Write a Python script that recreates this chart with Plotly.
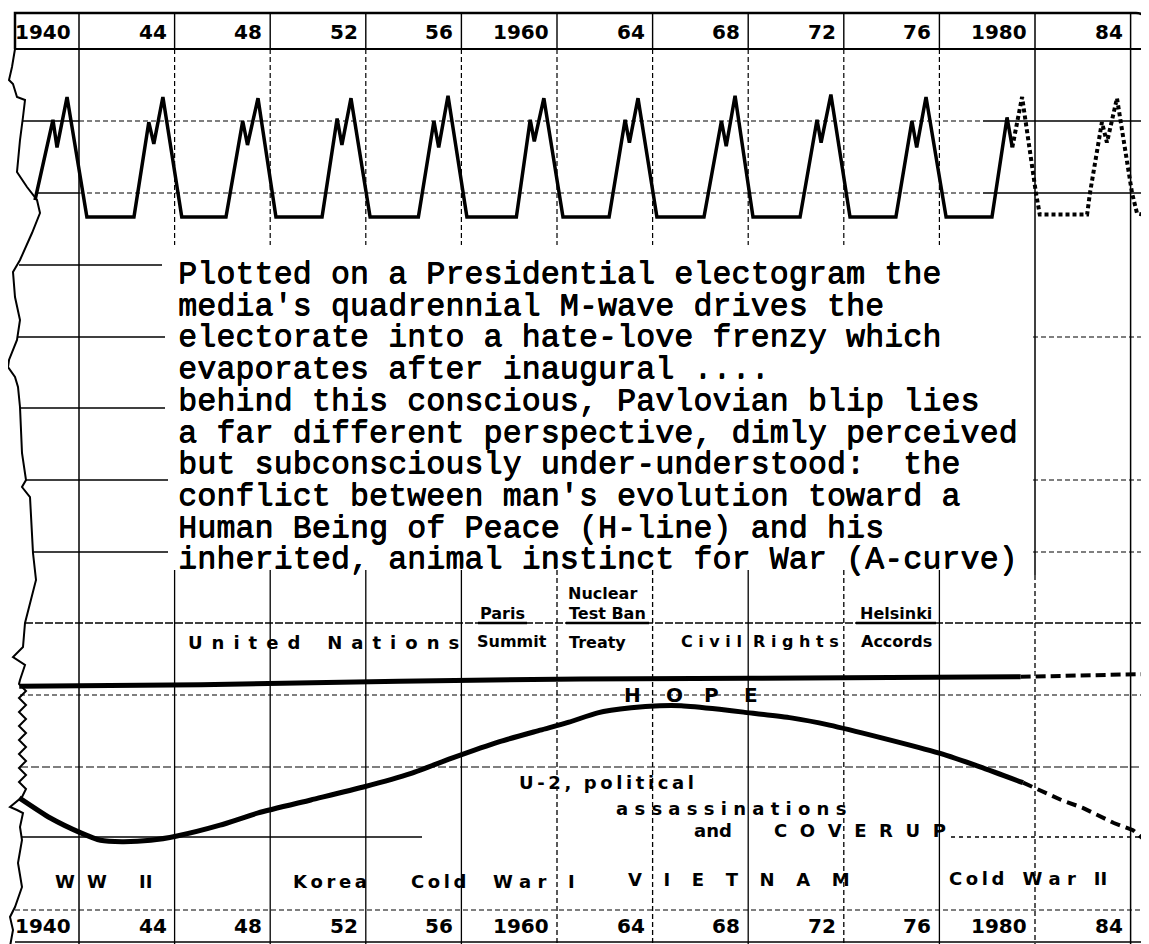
import plotly.graph_objects as go

W, H = 1149, 944

# ---------------- data ----------------
grid_years = [1941, 1945, 1949, 1953, 1957, 1961, 1965, 1969, 1973, 1977, 1981, 1985]
year_labels = ["1940", "44", "48", "52", "56", "1960", "64", "68", "72", "76", "1980", "84"]

# Quadrennial "M-wave" (media intensity, arbitrary units)
m_years = [1939.16, 1939.91, 1940.08, 1940.50, 1941.33,
           1943.30, 1943.92, 1944.13, 1944.51, 1945.30,
           1947.15, 1947.85, 1948.05, 1948.49, 1949.24,
           1951.17, 1951.80, 1952.00, 1952.38, 1953.18,
           1955.20, 1955.85, 1956.05, 1956.44, 1957.23,
           1959.30, 1959.88, 1960.05, 1960.45, 1961.25,
           1963.18, 1963.85, 1964.03, 1964.39, 1965.18,
           1967.15, 1967.88, 1968.08, 1968.45, 1969.20,
           1971.17, 1971.88, 1972.05, 1972.46, 1973.26,
           1975.18, 1975.85, 1976.05, 1976.44, 1977.28,
           1979.20, 1979.83, 1980.05]
m_values = [1.4, 8.1, 5.8, 10.0, 0.0,
            0.0, 7.9, 6.1, 10.0, 0.0,
            0.0, 8.0, 6.0, 9.9, 0.0,
            0.0, 8.2, 6.0, 9.9, 0.0,
            0.0, 8.0, 5.8, 10.1, 0.0,
            0.0, 8.1, 6.3, 9.9, 0.0,
            0.0, 8.1, 6.2, 9.9, 0.0,
            0.0, 8.0, 5.9, 10.1, 0.0,
            0.0, 8.1, 6.2, 10.2, 0.0,
            0.0, 8.0, 5.8, 10.0, 0.0,
            0.0, 8.3, 5.8]
m_years_proj = [1980.05, 1980.46, 1981.04, 1981.20, 1983.18, 1983.30, 1983.80,
                1984.01, 1984.43, 1985.06, 1985.27, 1985.75]
m_values_proj = [5.8, 10.0, 2.0, 0.2, 0.2, 2.0, 7.9, 6.2, 9.9, 2.0, 0.3, 0.1]

# H-line (Human Being of Peace)
h_years = [1938.5, 1946.1, 1954.4, 1962.0, 1969.1, 1980.4]
h_values = [31.5, 31.7, 32.2, 32.5, 32.6, 32.8]
h_years_proj = [1980.4, 1985.8]
h_values_proj = [32.8, 33.2]

# A-curve (animal instinct for War)
a_years = [1938.5, 1939.8, 1941.1, 1941.9, 1942.8, 1944.0, 1945.1, 1946.9, 1948.5,
           1950.7, 1952.9, 1954.9, 1956.6, 1958.6, 1960.3, 1961.5, 1962.7, 1964.1,
           1965.3, 1966.2, 1967.8, 1968.8, 1970.8, 1972.4, 1974.5, 1977.0, 1978.7, 1980.5]
a_values = [16.0, 13.2, 11.1, 10.1, 9.9, 10.1, 10.7, 12.2, 13.9,
            15.7, 17.5, 19.4, 21.5, 23.8, 25.4, 26.5, 27.8, 28.5,
            28.8, 28.8, 28.3, 27.9, 27.1, 26.1, 24.4, 22.2, 20.3, 18.1]
a_years_proj = [1980.5, 1982.1, 1983.0, 1984.3, 1985.1, 1985.6]
a_values_proj = [18.1, 15.7, 14.6, 12.5, 11.5, 10.1]

note_lines = [
    "Plotted on a Presidential electogram the",
    "media's quadrennial M-wave drives the",
    "electorate into a hate-love frenzy which",
    "evaporates after inaugural ....",
    "behind this conscious, Pavlovian blip lies",
    "a far different perspective, dimly perceived",
    "but subconsciously under-understood:  the",
    "conflict between man's evolution toward a",
    "Human Being of Peace (H-line) and his",
    "inherited, animal instinct for War (A-curve)",
]

# ---------------- layout helpers ----------------
OFF = 8.0  # the page body adds an 8 px margin; compensate so the sheet sits where it should
X_REF_YEAR, X_REF_PX, PX_PER_YEAR = 1941.0, 79.0, 23.9
x_range = [X_REF_YEAR - (X_REF_PX - OFF) / PX_PER_YEAR,
           X_REF_YEAR + (W + OFF - X_REF_PX) / PX_PER_YEAR]
# M-wave axis: 0 at pixel 217, 12 px per unit
y_range = [-(H + OFF - 217) / 12.0, (217 - OFF) / 12.0]
# H/A axis: 0 at pixel 913, 7.2 px per unit
y2_range = [-(H + OFF - 913) / 7.2, (913 - OFF) / 7.2]

def px(x):
    return (x - OFF) / W

def py(y):
    return 1 - (y - OFF) / H

shapes = []

def hline(y, x0, x1, width=1.3, dash="solid"):
    shapes.append(dict(type="line", xref="paper", yref="paper", x0=px(x0), x1=px(x1),
                       y0=py(y), y1=py(y), line=dict(color="black", width=width, dash=dash)))

def vline(year, y0, y1, width=1.3, dash="solid"):
    shapes.append(dict(type="line", xref="x", yref="paper", x0=year, x1=year,
                       y0=py(y0), y1=py(y1), line=dict(color="black", width=width, dash=dash)))

def path(points, width=1.8):
    d = ""
    for i, (x, y) in enumerate(points):
        d += ("M" if i == 0 else "L") + f"{px(x):.5f},{py(y):.5f} "
    shapes.append(dict(type="path", xref="paper", yref="paper", path=d,
                       line=dict(color="black", width=width)))

DASH = "5px,3px"

# top border with rounded right corner
shapes.append(dict(type="path", xref="paper", yref="paper",
                   path=f"M{px(15)},{py(49)} L{px(15)},{py(13)} L{px(1136)},{py(13)} "
                        f"Q{px(1146)},{py(13)} {px(1149)},{py(24)}",
                   line=dict(color="black", width=2.5)))
hline(49, 15, 1157, 2.2)

# top panel grid
for y, xs in [(121, 22), (193, 38)]:
    hline(y, xs, 79, 1.3)
    hline(y, 79, 983, 1.2, DASH)
    hline(y, 983, 1157, 1.3)

# middle rules (left and right of the typed note)
for y, x0, x1 in [(265, 19, 162), (337, 17, 165), (408, 20, 165), (480, 25, 168), (552, 33, 168)]:
    hline(y, x0, x1, 1.6)
for y in [337, 480, 552]:
    hline(y, 1033, 1157, 1.2, DASH)

# bottom panel grid
hline(623, 25, 1157, 1.3, "8px,2px")
hline(695, 20, 1157, 1.2, DASH)
hline(767, 20, 1157, 1.2, "8px,3px")
hline(837, 22, 422, 1.3)
hline(837, 951, 1157, 1.6, "4px,4px")
hline(910, 15, 1157, 1.2, DASH)
hline(942, 15, 1157, 1.3)
# underlines on the grid rule
for x0, x1 in [(478, 527), (566, 649), (856, 936)]:
    hline(623, x0, x1, 2.4)

# vertical year rules
bottom_dash = {1961, 1965, 1973}
for yr in grid_years:
    if yr in (1941, 1985):
        vline(yr, 13, 952, 1.5)
    elif yr == 1981:
        vline(yr, 13, 575, 1.5)
        vline(yr, 575, 952, 1.3, DASH)
    else:
        vline(yr, 13, 49, 1.4)
        vline(yr, 49, 245, 1.2, DASH)
        vline(yr, 570, 952, 1.3, DASH if yr in bottom_dash else "solid")

# torn left edge of the sheet
edge = [(15, 49), (12, 67), (9, 80), (13, 84), (17, 97), (25, 100), (23, 117), (20, 140),
        (17, 172), (27, 187), (37, 200), (40, 213), (32, 233), (20, 260), (13, 272),
        (15, 297), (20, 320), (17, 340), (9, 360), (8, 367), (15, 377), (18, 387),
        (20, 407), (22, 453), (26, 480), (22, 487), (30, 497), (33, 553), (36, 580),
        (25, 623), (23, 647), (13, 657), (25, 665), (20, 680)]
yy = 684
k = 0
while yy < 795:
    edge.append((19 if k % 2 == 0 else 26, yy))
    yy += 7
    k += 1
edge += [(22, 797), (10, 807), (17, 810), (23, 813), (20, 827), (22, 840), (18, 863),
         (22, 887), (15, 907), (10, 917), (13, 930), (9, 952)]
path(edge, 2.0)

# ---------------- traces ----------------
fig = go.Figure()
fig.add_trace(go.Scatter(x=m_years, y=m_values, mode="lines",
                         line=dict(color="black", width=3.5), yaxis="y", hoverinfo="skip"))
fig.add_trace(go.Scatter(x=m_years_proj, y=m_values_proj, mode="lines",
                         line=dict(color="black", width=4, dash="4px,3px"), yaxis="y",
                         hoverinfo="skip"))
fig.add_trace(go.Scatter(x=h_years, y=h_values, mode="lines",
                         line=dict(color="black", width=5), yaxis="y2", hoverinfo="skip"))
fig.add_trace(go.Scatter(x=h_years_proj, y=h_values_proj, mode="lines",
                         line=dict(color="black", width=4, dash="10px,5px"), yaxis="y2",
                         hoverinfo="skip"))
fig.add_trace(go.Scatter(x=a_years, y=a_values, mode="lines",
                         line=dict(color="black", width=5, shape="spline", smoothing=0.6),
                         yaxis="y2", hoverinfo="skip"))
fig.add_trace(go.Scatter(x=a_years_proj, y=a_values_proj, mode="lines",
                         line=dict(color="black", width=4, dash="10px,6px"), yaxis="y2",
                         hoverinfo="skip"))

# ---------------- text ----------------
annotations = []
HAND = "DejaVu Sans"

def note(text, x, y, size=16, anchor="center", family=HAND, weight="bold", xref="paper",
         shadow=None):
    font = dict(family=family, size=size, color="black", weight=weight)
    if shadow:
        font["shadow"] = shadow
    annotations.append(dict(text=text, x=(px(x) if xref == "paper" else x), y=py(y),
                            xref=xref, yref="paper", xanchor=anchor, yanchor="middle",
                            showarrow=False, font=font))

for yr, lab in zip(grid_years, year_labels):
    note(lab, yr - 0.25, 32, 20, "right", xref="x")
    note(lab, yr - 0.25, 926, 20, "right", xref="x")

for i, line in enumerate(note_lines):
    note(line, 176, 275 + 31.7 * i, 31.8, "left", family="Liberation Mono", weight="normal",
         shadow="0.6px 0px 0px black, 0px 0.5px 0px black")

sp = "\u2002"
th = "\u2009"
nb = "\u00a0"
note("Paris", 502, 613)
note("Summit", 512, 641)
note("Nuclear", 602, 593)
note("Test Ban", 607, 613)
note("Treaty", 597, 642)
note(sp.join("United") + sp * 3 + sp.join("Nations"), 323, 642, 18)
note(" ".join("Civil") + nb * 2 + " ".join("Rights"), 760, 641)
note("Helsinki", 896, 613)
note("Accords", 896, 641)
for ch, x in zip("HOPE", [632, 674, 711, 751]):
    note(ch, x, 695, 20)
note(th.join("U-2,") + nb + nb + th.join("political"), 517, 782, 18, "left")
note(" ".join("assassinations"), 614, 808, 18, "left")
note("and", 692, 830, 18, "left")
note((sp + th).join("COVERUP"), 772, 830, 18, "left")
note("W", 65, 881, 18)
note("W", 97, 881, 18)
note("II", 145, 881, 18)
note(th.join("Korea"), 330, 881, 18)
note(th.join("Cold"), 438, 881, 18)
note(" ".join("War"), 520, 881, 18)
note("I", 571, 881, 18)
note(("\u2003" + th).join("VIETNAM"), 739, 879, 18)
note(th.join("Cold") + "\u2003" + " ".join("War") + "\u2003" + "II", 1028, 878, 18)

fig.update_layout(
    width=W, height=H,
    margin=dict(l=0, r=0, t=0, b=0),
    paper_bgcolor="white", plot_bgcolor="white",
    showlegend=False,
    xaxis=dict(range=x_range, visible=False, fixedrange=True),
    yaxis=dict(range=y_range, visible=False, fixedrange=True),
    yaxis2=dict(range=y2_range, visible=False, overlaying="y", fixedrange=True),
    shapes=shapes,
    annotations=annotations,
)

fig.write_html("out.html")
